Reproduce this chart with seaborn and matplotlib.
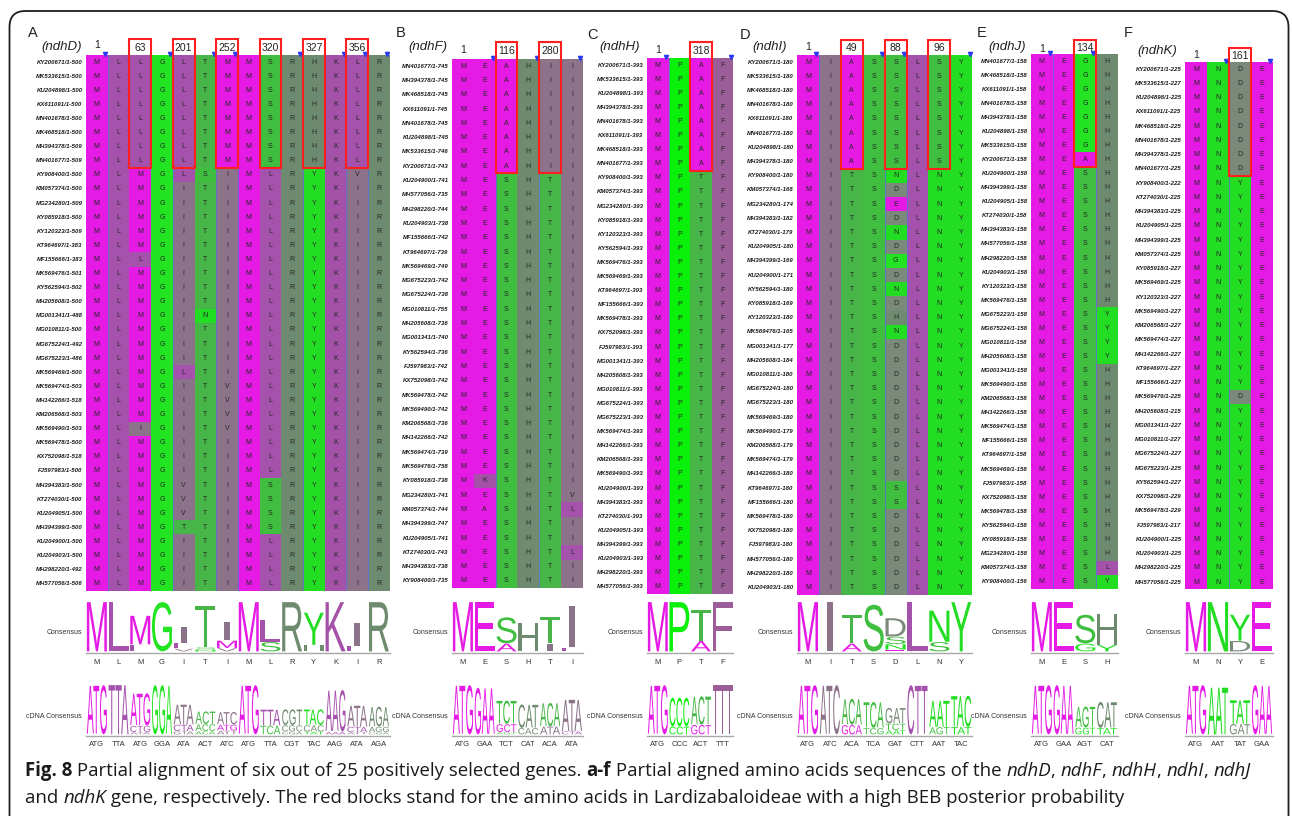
import numpy as np
import pandas as pd
import matplotlib
matplotlib.use("Agg")
import matplotlib.pyplot as plt
import seaborn as sns
from matplotlib.colors import ListedColormap
from matplotlib.patches import Rectangle, PathPatch, FancyBboxPatch
from matplotlib.textpath import TextPath
from matplotlib.font_manager import FontProperties, get_font_names
from matplotlib.transforms import Affine2D

W, H = 1292, 816

# -----------------------------
# alignment data
# -----------------------------
names_a = ["KY200671/1-500", "MK533615/1-500", "KU204898/1-500", "KX611091/1-500", "MN401678/1-500",
           "MK468518/1-500", "MH394378/1-509", "MN401677/1-509", "KY908400/1-500", "KM057374/1-500",
           "MG234280/1-509", "KY085918/1-500", "KY120323/1-509", "KT964697/1-383", "MF155666/1-383",
           "MK569476/1-501", "KY562594/1-502", "MH205608/1-500", "MG001341/1-488", "MG010811/1-500",
           "MG675224/1-492", "MG675223/1-486", "MK569469/1-500", "MK569474/1-503", "MH142266/1-518",
           "KM206568/1-503", "MK569490/1-503", "MK569478/1-500", "KX752098/1-518", "FJ597983/1-500",
           "MH394383/1-500", "KT274030/1-500", "KU204905/1-500", "MH394399/1-500", "KU204900/1-500",
           "KU204903/1-500", "MH298220/1-492", "MH577056/1-506"]
cols_a = ["M" * 38,
          "L" * 38,
          "L" * 8 + "M" * 6 + "L" + "M" * 11 + "I" + "M" * 11,
          "G" * 38,
          "L" * 9 + "I" * 13 + "L" + "I" * 7 + "V" * 3 + "T" + "I" * 4,
          "T" * 8 + "S" + "T" * 9 + "N" + "T" * 19,
          "M" * 8 + "I" * 15 + "V" * 4 + "I" * 11,
          "M" * 38,
          "S" * 8 + "L" * 22 + "S" * 4 + "L" * 4,
          "R" * 38,
          "H" * 8 + "Y" * 30,
          "K" * 38,
          "L" * 8 + "V" + "I" * 29,
          "R" * 38]

names_b = ["MN401677/1-745", "MH394378/1-745", "MK468518/1-745", "KX611091/1-745", "MN401678/1-745",
           "KU204898/1-745", "MK533615/1-746", "KY200671/1-743", "KU204900/1-741", "MH577056/1-735",
           "MH298220/1-744", "KU204903/1-738", "MF155666/1-742", "KT964697/1-739", "MK569469/1-749",
           "MG675223/1-742", "MG675224/1-738", "MG010811/1-755", "MH205608/1-736", "MG001341/1-740",
           "KY562594/1-736", "FJ597983/1-742", "KX752098/1-742", "MK569478/1-742", "MK569490/1-742",
           "KM206568/1-736", "MH142266/1-742", "MK569474/1-739", "MK569476/1-758", "KY085918/1-738",
           "MG234280/1-741", "KM057374/1-744", "MH394399/1-747", "KU204905/1-741", "KT274030/1-743",
           "MH394383/1-738", "KY908400/1-735"]
cols_b = ["M" * 37,
          "E" * 29 + "K" + "E" + "A" + "E" * 5,
          "A" * 8 + "S" * 29,
          "H" * 37,
          "I" * 8 + "T" * 29,
          "I" * 30 + "V" + "L" + "I" * 2 + "L" + "I" * 2]

names_c = ["KY200671/1-393", "MK533615/1-393", "KU204898/1-393", "MH394378/1-393", "MN401678/1-393",
           "KX611091/1-393", "MK468518/1-393", "MN401677/1-393", "KY908400/1-393", "KM057374/1-393",
           "MG234280/1-393", "KY085918/1-393", "KY120323/1-393", "KY562594/1-393", "MK569476/1-393",
           "MK569469/1-393", "KT964697/1-393", "MF155666/1-393", "MK569478/1-393", "KX752098/1-393",
           "FJ597983/1-393", "MG001341/1-393", "MH205608/1-393", "MG010811/1-393", "MG675224/1-393",
           "MG675223/1-393", "MK569474/1-393", "MH142266/1-393", "KM206568/1-393", "MK569490/1-393",
           "KU204900/1-393", "MH394383/1-393", "KT274030/1-393", "KU204905/1-393", "MH394399/1-393",
           "KU204903/1-393", "MH298220/1-393", "MH577056/1-393"]
cols_c = ["M" * 38, "P" * 38, "A" * 8 + "T" * 30, "F" * 38]

names_d = ["KY200671/1-180", "MK533615/1-180", "MK468518/1-180", "MN401678/1-180", "KX611091/1-180",
           "MN401677/1-180", "KU204898/1-180", "MH394378/1-180", "KY908400/1-180", "KM057374/1-168",
           "MG234280/1-174", "MH394383/1-182", "KT274030/1-179", "KU204905/1-180", "MH394399/1-169",
           "KU204900/1-171", "KY562594/1-180", "KY085918/1-169", "KY120323/1-180", "MK569476/1-165",
           "MG001341/1-177", "MH205608/1-184", "MG010811/1-180", "MG675224/1-180", "MG675223/1-180",
           "MK569469/1-180", "MK569490/1-179", "KM206568/1-179", "MK569474/1-179", "MH142266/1-180",
           "KT964697/1-180", "MF155666/1-180", "MK569478/1-180", "KX752098/1-180", "FJ597983/1-180",
           "MH577056/1-180", "MH298220/1-180", "KU204903/1-180"]
cols_d = ["M" * 38,
          "I" * 38,
          "A" * 8 + "T" * 30,
          "S" * 38,
          "S" * 8 + "NDEDNDGDNDHN" + "D" * 10 + "SS" + "D" * 6,
          "L" * 38,
          "S" * 8 + "N" * 30,
          "Y" * 38]

names_e = ["MN401677/1-158", "MK468518/1-158", "KX611091/1-158", "MN401678/1-158", "MH394378/1-158",
           "KU204898/1-158", "MK533615/1-158", "KY200671/1-158", "KU204900/1-158", "MH394399/1-158",
           "KU204905/1-158", "KT274030/1-158", "MH394383/1-158", "MH577056/1-158", "MH298220/1-158",
           "KU204903/1-158", "KY120323/1-158", "MK569476/1-158", "MG675223/1-158", "MG675224/1-158",
           "MG010811/1-158", "MH205608/1-158", "MG001341/1-158", "MK569490/1-158", "KM206568/1-158",
           "MH142266/1-158", "MK569474/1-158", "MF155666/1-158", "KT964697/1-158", "MK569469/1-158",
           "FJ597983/1-158", "KX752098/1-158", "MK569478/1-158", "KY562594/1-158", "KY085918/1-158",
           "MG234280/1-158", "KM057374/1-158", "KY908400/1-156"]
cols_e = ["M" * 38,
          "E" * 38,
          "G" * 7 + "A" + "S" * 30,
          "H" * 18 + "Y" * 4 + "H" * 14 + "L" + "Y"]

names_f = ["KY200671/1-225", "MK533615/1-227", "KU204898/1-225", "KX611091/1-225", "MK468518/1-225",
           "MN401678/1-225", "MH394378/1-225", "MN401677/1-225", "KY908400/1-222", "KT274030/1-225",
           "MH394383/1-225", "KU204905/1-225", "MH394399/1-225", "KM057374/1-225", "KY085918/1-227",
           "MK569469/1-225", "KY120323/1-227", "MK569490/1-227", "KM206568/1-227", "MK569474/1-227",
           "MH142266/1-227", "KT964697/1-227", "MF155666/1-227", "MK569476/1-225", "MH205608/1-215",
           "MG001341/1-227", "MG010811/1-227", "MG675224/1-227", "MG675223/1-225", "KY562594/1-227",
           "KX752098/1-229", "MK569478/1-229", "FJ597983/1-217", "KU204900/1-225", "KU204903/1-225",
           "MH298220/1-225", "MH577056/1-225"]
cols_f = ["M" * 37, "N" * 37, "D" * 8 + "Y" * 15 + "D" + "Y" * 13, "E" * 37]

# consensus logos: (letter, relative height), largest first
logo_a = [[("M", .95)], [("L", .95)], [("M", .55), ("L", .13)], [("G", .95)],
          [("I", .3), ("L", .1), ("V", .05)], [("T", .8), ("S", .04), ("N", .03)],
          [("I", .35), ("M", .14), ("V", .06)], [("M", .95)], [("L", .42), ("S", .18)],
          [("R", .95)], [("Y", .62), ("H", .12)], [("K", .95)], [("I", .45), ("L", .1)], [("R", .95)]]
cdna_a = [[("ATG", .95)], [("TTA", .95)], [("ATG", .62), ("CTG", .12), ("ATA", .04)], [("GGA", .95)],
          [("ATA", .38), ("CTA", .12), ("GTA", .06)], [("ACT", .24), ("ACC", .13), ("ACA", .06)],
          [("ATC", .24), ("ATG", .11), ("ATT", .07)], [("ATG", .95)], [("TTA", .3), ("TCA", .17)],
          [("CGT", .3), ("CGC", .12), ("CGA", .05)], [("TAC", .3), ("CAC", .12), ("TAT", .05)],
          [("AAG", .8), ("AAA", .05)], [("ATA", .4), ("CTA", .1), ("ATT", .04)],
          [("AGA", .38), ("AGG", .1), ("CGA", .04)]]

logo_b = [[("M", .95)], [("E", .95)], [("S", .5), ("A", .15)], [("H", .55)],
          [("T", .5), ("I", .15)], [("I", .8), ("L", .07)]]
cdna_b = [[("ATG", .95)], [("GAA", .9)], [("TCT", .45), ("GCT", .15), ("AGT", .04)],
          [("CAT", .45), ("CAC", .12)], [("ACA", .45), ("ATA", .15)], [("ATA", .6), ("CTA", .06)]]

logo_c = [[("M", .95)], [("P", .95)], [("T", .6), ("A", .2)], [("F", .95)]]
cdna_c = [[("ATG", .95)], [("CCC", .55), ("CCT", .15)], [("ACT", .55), ("GCT", .18)], [("TTT", .95)]]

logo_d = [[("M", .95)], [("I", .95)], [("T", .55), ("A", .15)], [("S", .9)],
          [("D", .35), ("S", .14), ("N", .1), ("E", .03)], [("L", .95)],
          [("N", .6), ("S", .18)], [("Y", .95)]]
cdna_d = [[("ATG", .95)], [("ATC", .95)], [("ACA", .5), ("GCA", .18)], [("TCA", .5), ("TCG", .12)],
          [("GAT", .3), ("TCT", .12), ("AAT", .08)], [("CTT", .95)], [("AAT", .5), ("AGT", .14)],
          [("TAC", .6), ("TAT", .14)]]

logo_e = [[("M", .95)], [("E", .95)], [("S", .55), ("G", .15)], [("H", .6), ("Y", .12)]]
cdna_e = [[("ATG", .95)], [("GAA", .95)], [("AGT", .4), ("GGT", .13)], [("CAT", .5), ("TAT", .12)]]

logo_f = [[("M", .95)], [("N", .95)], [("Y", .5), ("D", .2)], [("E", .95)]]
cdna_f = [[("ATG", .95)], [("AAT", .9)], [("TAT", .45), ("GAT", .2)], [("GAA", .95)]]

# -----------------------------
# colours
# -----------------------------
aa_colors = {
    "M": "#e51ae5", "A": "#e51ae5", "E": "#e51ae5",
    "L": "#a552ad", "K": "#a352a8",
    "I": "#8c7389", "V": "#8c7389",
    "G": "#22e422", "P": "#0af00a",
    "Y": "#22dd22", "N": "#22dd22",
    "T": "#48b548", "S": "#3fbe3f",
    "R": "#6f8b6f", "H": "#6f8b6f", "D": "#7b897b",
    "F": "#9b5e98",
}
codon_aa = {"ATG": "M", "TTA": "L", "CTG": "L", "CTA": "L", "CTT": "L", "GGA": "G", "GGT": "G",
            "ATA": "I", "ATC": "I", "ATT": "I", "GTA": "V", "ACT": "T", "ACC": "T", "ACA": "T",
            "TCA": "S", "TCT": "S", "TCG": "S", "AGT": "S", "CGT": "R", "CGC": "R", "CGA": "R",
            "AGA": "R", "AGG": "R", "TAC": "Y", "TAT": "Y", "CAC": "H", "CAT": "H", "AAG": "K",
            "AAA": "K", "GAA": "E", "GCT": "A", "GCA": "A", "CCC": "P", "CCT": "P", "TTT": "F",
            "GAT": "D", "AAT": "N"}
aa_order = list(aa_colors)
code_of = {a: i for i, a in enumerate(aa_order)}
cmap = ListedColormap([aa_colors[a] for a in aa_order])

# -----------------------------
# fonts
# -----------------------------
avail = set(get_font_names())
if "Liberation Sans Narrow" in avail:
    narrow, lab_size, cell_size = "Liberation Sans Narrow", 5.2, 6.0
else:
    narrow, lab_size, cell_size = "Liberation Sans", 4.3, 5.0
sans = "Liberation Sans"
glyph_font = FontProperties(family=sans)
cap_font = "Open Sans" if "Open Sans" in avail else "DejaVu Sans"

# -----------------------------
# panel layout (pixels of the 1292x816 canvas)
# -----------------------------
panels = [
    dict(tag="A", gene="ndhD", names=names_a, cols=cols_a, logo=logo_a, cdna=cdna_a,
         geom=(86, 21.7, 55, 14.1), tag_xy=(33, 33), gene_xy=(62, 47), one_y=45, box_top=39,
         boxes=[(2, "63"), (4, "201"), (6, "252"), (8, "320"), (10, "327"), (12, "356")],
         marks=[1, 4, 6, 7, 10, 12, 13, 14]),
    dict(tag="B", gene="ndhF", names=names_b, cols=cols_b, logo=logo_b, cdna=cdna_b,
         geom=(452, 21.8, 59, 14.3), tag_xy=(401, 33), gene_xy=(428, 47), one_y=50, box_top=42,
         boxes=[(2, "116"), (4, "280")], marks=[2, 4, 6]),
    dict(tag="C", gene="ndhH", names=names_c, cols=cols_c, logo=logo_c, cdna=cdna_c,
         geom=(647, 21.6, 58, 14.1), tag_xy=(592, 35), gene_xy=(620, 47), one_y=50, box_top=42,
         boxes=[(2, "318")], marks=[1, 4]),
    dict(tag="D", gene="ndhI", names=names_d, cols=cols_d, logo=logo_d, cdna=cdna_d,
         geom=(797, 21.9, 55, 14.2), tag_xy=(745, 35), gene_xy=(770, 47), one_y=47, box_top=40,
         boxes=[(2, "49"), (4, "88"), (6, "96")], marks=[1, 4, 5, 8]),
    dict(tag="E", gene="ndhJ", names=names_e, cols=cols_e, logo=logo_e, cdna=cdna_e,
         geom=(1031, 21.7, 54, 14.07), tag_xy=(982, 33), gene_xy=(1007, 47), one_y=49, box_top=40,
         boxes=[(2, "134")], marks=[1, 3]),
    dict(tag="F", gene="ndhK", names=names_f, cols=cols_f, logo=logo_f, cdna=cdna_f,
         geom=(1185, 22.0, 62, 14.25), tag_xy=(1128, 33), gene_xy=(1157, 51), one_y=55, box_top=48,
         boxes=[(2, "161")], marks=[2, 4]),
]
LOGO_Y = (599, 653)
CDNA_Y = (682, 736)

fig = plt.figure(figsize=(W / 100, H / 100), dpi=100)
fig.patch.set_facecolor("white")

bg = fig.add_axes([0, 0, 1, 1], zorder=-5)
bg.set_xlim(0, W)
bg.set_ylim(H, 0)
bg.axis("off")


def px_axes(x0, x1, y0, y1, **kw):
    return fig.add_axes([x0 / W, 1 - y1 / H, (x1 - x0) / W, (y1 - y0) / H], **kw)


def glyph(ax, s, x, y, w, h, color):
    tp = TextPath((0, 0), s, size=1, prop=glyph_font)
    bb = tp.get_extents()
    tr = Affine2D().translate(-bb.x0, -bb.y0).scale(w / bb.width, h / bb.height).translate(x, y)
    ax.add_patch(PathPatch(tr.transform_path(tp), fc=color, ec="none"))


def draw_logo(ax, stacks, codon=False):
    for c, stack in enumerate(stacks):
        y = 0.03
        for s, hgt in sorted(stack, key=lambda t: t[1]):
            hh = hgt * 0.96
            color = aa_colors[codon_aa[s]] if codon else aa_colors[s]
            if s == "I":
                glyph(ax, s, c + 0.36, y, 0.28, hh, color)
            else:
                glyph(ax, s, c + 0.04, y, 0.92, hh, color)
            y += hh + 0.006


for p in panels:
    names, cols = p["names"], p["cols"]
    nrow, ncol = len(names), len(cols)
    letters = np.array([list(c) for c in cols]).T
    codes = np.vectorize(code_of.get)(letters)
    x0, cw, y0, rh = p["geom"]
    x1, y1 = x0 + ncol * cw, y0 + nrow * rh

    ax = px_axes(x0, x1, y0, y1)
    sns.heatmap(pd.DataFrame(codes, index=names), ax=ax, cmap=cmap,
                vmin=-0.5, vmax=len(aa_order) - 0.5, cbar=False,
                annot=letters, fmt="", xticklabels=False, yticklabels=True,
                annot_kws=dict(fontsize=cell_size, color="#262626", family=narrow))
    ax.set_yticklabels(names, rotation=0, fontsize=lab_size, fontstyle="italic",
                       fontweight="bold", family=narrow, color="#1a1a1a")
    ax.tick_params(axis="y", length=0, pad=2.5)
    ax.set_ylabel("")

    # ruler marks
    for b in p["marks"]:
        ax.axvline(b, color="#5d6fd8", lw=0.6)
        ax.plot([b - 0.12], [-0.1], marker="v", ms=3.0, color="#2a3af2", clip_on=False, zorder=6)

    # red blocks (Lardizabaloideae sites)
    ext = (y0 - p["box_top"]) / rh
    for c, lab in p["boxes"]:
        ax.add_patch(Rectangle((c, -ext), 1, 8 + ext, fill=False, ec="#ff1f1f", lw=1.5,
                               clip_on=False, zorder=7))
        ax.text(c + 0.5, -ext * 0.45, lab, ha="center", va="center", fontsize=7.5,
                family=sans, color="#222222", clip_on=False)
    bg.text(x0 + cw / 2, p["one_y"], "1", ha="center", va="center", fontsize=7.5,
            family=sans, color="#222222")

    bg.text(*p["tag_xy"], p["tag"], ha="center", va="center", fontsize=10.5, family=sans,
            color="#222222")
    bg.text(*p["gene_xy"], "(" + p["gene"] + ")", ha="center", va="center", fontsize=9.5,
            family=sans, fontstyle="italic", color="#222222")

    # consensus logo
    axl = px_axes(x0, x1, *LOGO_Y)
    axl.set_xlim(0, ncol)
    axl.set_ylim(0, 1)
    axl.axis("off")
    axl.axhline(0.005, color="#a8a8a8", lw=1.0, clip_on=False)
    draw_logo(axl, p["logo"])

    axc = px_axes(x0, x1, *CDNA_Y)
    axc.set_xlim(0, ncol)
    axc.set_ylim(0, 1)
    axc.axis("off")
    axc.axhline(0.005, color="#a8a8a8", lw=1.0, clip_on=False)
    draw_logo(axc, p["cdna"], codon=True)

    for c in range(ncol):
        xc = x0 + (c + 0.5) * cw
        bg.text(xc, 663, p["logo"][c][0][0], ha="center", va="center", fontsize=5.5,
                family=narrow, color="#333333")
        bg.text(xc, 745, p["cdna"][c][0][0], ha="center", va="center", fontsize=5.5,
                family=narrow, color="#333333")
    bg.text(x0 - 4, 632, "Consensus", ha="right", va="center", fontsize=5.0, family=narrow,
            color="#333333")
    bg.text(x0 - 4, 716, "cDNA Consensus", ha="right", va="center", fontsize=5.0,
            family=narrow, color="#333333")

# frame
bg.add_patch(FancyBboxPatch((9.5, 11), 1279, 860, boxstyle="round,pad=0,rounding_size=16",
                            fill=False, ec="#1e1e1e", lw=1.3))

# caption
line1 = [("Fig. 8", "bold", "normal"),
         (" Partial alignment of six out of 25 positively selected genes. ", "normal", "normal"),
         ("a-f", "bold", "normal"),
         (" Partial aligned amino acids sequences of the ", "normal", "normal"),
         ("ndhD", "normal", "italic"), (", ", "normal", "normal"),
         ("ndhF", "normal", "italic"), (", ", "normal", "normal"),
         ("ndhH", "normal", "italic"), (", ", "normal", "normal"),
         ("ndhI", "normal", "italic"), (", ", "normal", "normal"),
         ("ndhJ", "normal", "italic")]
line2 = [("and ", "normal", "normal"), ("ndhK", "normal", "italic"),
         (" gene, respectively. The red blocks stand for the amino acids in Lardizabaloideae "
          "with a high BEB posterior probability", "normal", "normal")]

renderer = fig.canvas.get_renderer()
for pieces, yl in [(line1, 776), (line2, 803)]:
    x = 25
    for s, wt, st in pieces:
        t = bg.text(x, yl, s, ha="left", va="baseline", fontsize=13.4, family=cap_font,
                    fontweight=wt, fontstyle=st, color="#1a1a1a")
        x += t.get_window_extent(renderer=renderer).width

fig.savefig("out.png", dpi=100)
